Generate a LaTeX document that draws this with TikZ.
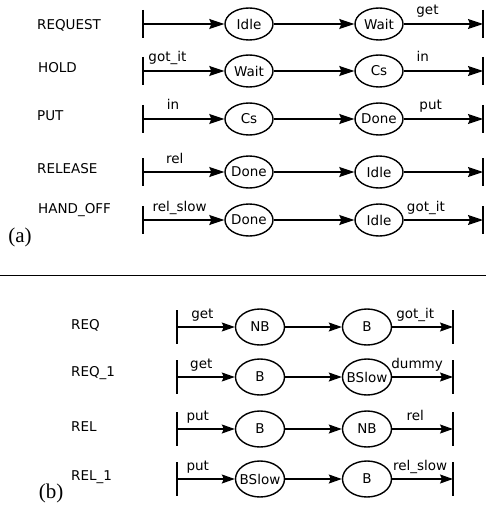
\documentclass[tikz,border=0pt]{standalone}
\usepackage{fontspec}
\newfontfamily\dv{DejaVu Sans}
\newfontfamily\tms{Liberation Serif}
\usetikzlibrary{shapes.geometric,arrows.meta}
\begin{document}
\begin{tikzpicture}[x=1pt,y=-1pt,
  sf/.style={font=\dv\fontsize{13.5}{15}\selectfont},
  sta/.style={ellipse,draw,line width=1.4pt,minimum width=48pt,minimum height=32pt,inner sep=0pt,sf},
  stb/.style={sta,minimum width=49pt,minimum height=36pt},
  arra/.style={line width=1.3pt,-{Stealth[length=15pt,width=10pt,inset=2pt]}},
  arrb/.style={line width=1.3pt,-{Stealth[length=13pt,width=9pt,inset=2pt]}},
  tick/.style={line width=1.4pt},
  lab/.style={sf,inner sep=0pt,anchor=base,yshift=9pt},
  rowlab/.style={sf,inner sep=0pt,anchor=west},
  panel/.style={font=\tms\fontsize{21}{24}\selectfont,inner sep=0pt}
]
\useasboundingbox (0,0) rectangle (486,508);

% ---------- part (a) ----------
% row 1
\node[rowlab] (tA1) at (37,25) {REQUEST};
\coordinate (lA1) at (143,24); \coordinate (rA1) at (483,24);
\node[sta] (aA1) at (249,24) {\makebox[0pt]{Idle}};
\node[sta] (bA1) at (379,24) {\makebox[0pt]{Wait}};
\draw[tick] ([yshift=14pt]lA1) -- ([yshift=-14pt]lA1);
\draw[tick] ([yshift=14pt]rA1) -- ([yshift=-14pt]rA1);
\draw[arra] (lA1) -- (aA1);
\draw[arra] (aA1) -- (bA1);
\draw[arra] (bA1) -- node[lab,pos=.30]{get} (rA1);
% row 2
\node[rowlab] (tA2) at (38,68) {HOLD};
\coordinate (lA2) at (143,71); \coordinate (rA2) at (483,71);
\node[sta] (aA2) at (249,71) {\makebox[0pt]{Wait}};
\node[sta] (bA2) at (379,71) {\makebox[0pt]{Cs}};
\draw[tick] ([yshift=14pt]lA2) -- ([yshift=-14pt]lA2);
\draw[tick] ([yshift=14pt]rA2) -- ([yshift=-14pt]rA2);
\draw[arra] (lA2) -- node[lab,pos=.30]{got\_it} (aA2);
\draw[arra] (aA2) -- (bA2);
\draw[arra] (bA2) -- node[lab,pos=.24]{in} (rA2);
% row 3
\node[rowlab] (tA3) at (37,116) {PUT};
\coordinate (lA3) at (143,119); \coordinate (rA3) at (483,119);
\node[sta] (aA3) at (249,119) {\makebox[0pt]{Cs}};
\node[sta] (bA3) at (379,119) {\makebox[0pt]{Done}};
\draw[tick] ([yshift=14pt]lA3) -- ([yshift=-14pt]lA3);
\draw[tick] ([yshift=14pt]rA3) -- ([yshift=-14pt]rA3);
\draw[arra] (lA3) -- node[lab,pos=.37]{in} (aA3);
\draw[arra] (aA3) -- (bA3);
\draw[arra] (bA3) -- node[lab,pos=.34]{put} (rA3);
% row 4
\node[rowlab] (tA4) at (37,169) {RELEASE};
\coordinate (lA4) at (143,172); \coordinate (rA4) at (483,172);
\node[sta] (aA4) at (249,172) {\makebox[0pt]{Done}};
\node[sta] (bA4) at (379,172) {\makebox[0pt]{Idle}};
\draw[tick] ([yshift=14pt]lA4) -- ([yshift=-14pt]lA4);
\draw[tick] ([yshift=14pt]rA4) -- ([yshift=-14pt]rA4);
\draw[arra] (lA4) -- node[lab,pos=.39]{rel} (aA4);
\draw[arra] (aA4) -- (bA4);
\draw[arra] (bA4) -- (rA4);
% row 5
\node[rowlab] (tA5) at (38,210) {HAND\_OFF};
\coordinate (lA5) at (143,220); \coordinate (rA5) at (483,220);
\node[sta] (aA5) at (249,220) {\makebox[0pt]{Done}};
\node[sta] (bA5) at (379,220) {\makebox[0pt]{Idle}};
\draw[tick] ([yshift=14pt]lA5) -- ([yshift=-14pt]lA5);
\draw[tick] ([yshift=14pt]rA5) -- ([yshift=-14pt]rA5);
\draw[arra] (lA5) -- node[lab,pos=.45]{rel\_slow} (aA5);
\draw[arra] (aA5) -- (bA5);
\draw[arra] (bA5) -- node[lab,pos=.28]{got\_it} (rA5);
\node[panel] (pa) at (20,237) {(a)};

% separator
\coordinate (s1) at (0,275); \coordinate (s2) at (486,275);
\draw[line width=1pt] (s1) -- (s2);

% ---------- part (b) ----------
% row 1
\node[rowlab] (tB1) at (71,325) {REQ};
\coordinate (lB1) at (177,327); \coordinate (rB1) at (453,327);
\node[stb] (aB1) at (260,327) {\makebox[0pt]{NB}};
\node[stb] (bB1) at (367,327) {\makebox[0pt]{B}};
\draw[tick] ([yshift=17pt]lB1) -- ([yshift=-17pt]lB1);
\draw[tick] ([yshift=17pt]rB1) -- ([yshift=-17pt]rB1);
\draw[arrb] (lB1) -- node[lab,pos=.44]{get} (aB1);
\draw[arrb] (aB1) -- (bB1);
\draw[arrb] (bB1) -- node[lab,pos=.38]{got\_it} (rB1);
% row 2
\node[rowlab] (tB2) at (71,373) {REQ\_1};
\coordinate (lB2) at (177,377); \coordinate (rB2) at (453,377);
\node[stb] (aB2) at (260,377) {\makebox[0pt]{B}};
\node[stb] (bB2) at (367,377) {\makebox[0pt]{BSlow}};
\draw[tick] ([yshift=17pt]lB2) -- ([yshift=-17pt]lB2);
\draw[tick] ([yshift=17pt]rB2) -- ([yshift=-17pt]rB2);
\draw[arrb] (lB2) -- node[lab,pos=.42]{get} (aB2);
\draw[arrb] (aB2) -- (bB2);
\draw[arrb] (bB2) -- node[lab,pos=.41]{dummy} (rB2);
% row 3
\node[rowlab] (tB3) at (71,427) {REL};
\coordinate (lB3) at (177,429); \coordinate (rB3) at (453,429);
\node[stb] (aB3) at (260,429) {\makebox[0pt]{B}};
\node[stb] (bB3) at (367,429) {\makebox[0pt]{NB}};
\draw[tick] ([yshift=17pt]lB3) -- ([yshift=-17pt]lB3);
\draw[tick] ([yshift=17pt]rB3) -- ([yshift=-17pt]rB3);
\draw[arrb] (lB3) -- node[lab,pos=.36]{put} (aB3);
\draw[arrb] (aB3) -- (bB3);
\draw[arrb] (bB3) -- node[lab,pos=.38]{rel} (rB3);
% row 4
\node[rowlab] (tB4) at (71,477) {REL\_1};
\coordinate (lB4) at (177,479); \coordinate (rB4) at (453,479);
\node[stb] (aB4) at (260,479) {\makebox[0pt]{BSlow}};
\node[stb] (bB4) at (367,479) {\makebox[0pt]{B}};
\draw[tick] ([yshift=17pt]lB4) -- ([yshift=-17pt]lB4);
\draw[tick] ([yshift=17pt]rB4) -- ([yshift=-17pt]rB4);
\draw[arrb] (lB4) -- node[lab,pos=.36]{put} (aB4);
\draw[arrb] (aB4) -- (bB4);
\draw[arrb] (bB4) -- node[lab,pos=.46]{rel\_slow} (rB4);
\node[panel] (pb) at (51,493) {(b)};
\end{tikzpicture}
\end{document}
